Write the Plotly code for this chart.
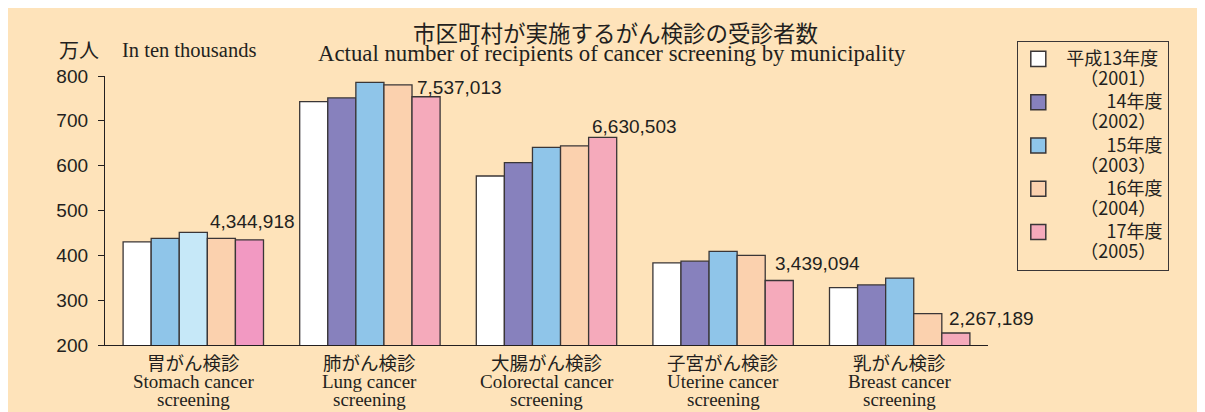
import plotly.graph_objects as go

# Data (in ten thousands of people)
categories_jp = ['胃がん検診', '肺がん検診', '大腸がん検診', '子宮がん検診', '乳がん検診']
categories_en = ['Stomach cancer<br>screening', 'Lung cancer<br>screening', 'Colorectal cancer<br>screening',
                 'Uterine cancer<br>screening', 'Breast cancer<br>screening']
year_line1 = ['平成13年度', '14年度', '15年度', '16年度', '17年度']
year_line2 = ['（2001）', '（2002）', '（2003）', '（2004）', '（2005）']
v2001 = [430, 743, 577, 383, 328]
v2002 = [438, 751, 607, 387, 334]
v2003 = [451, 786, 641, 409, 349]
v2004 = [438, 780, 644, 400, 270]
counts2005 = [4344918, 7537013, 6630503, 3439094, 2267189]
v2005 = [c / 10000 for c in counts2005]
series = [v2001, v2002, v2003, v2004, v2005]

# Styles
year_colors = ['#FFFFFF', '#8781BD', '#8FC5E9', '#FBD1AE', '#F5AABB']
stomach_colors = ['#FFFFFF', '#8FC5E9', '#C6E8F8', '#FBD1AE', '#F299C2']
bg = '#FEE3BA'
ink = '#231F20'
edge = '#3A3637'
jp_font = 'Noto Sans CJK JP'
serif = 'Liberation Serif'
sans = 'Liberation Sans'

# positions measured on the screenshot (page has an 8px body margin);
# plot area there is x 105..988, y 76..345
def px_x(px):
    return (px - 105) / 883

def px_y(py):
    return (345 - py) / 269

fig = go.Figure()
for i, vals in enumerate(series):
    colors = [stomach_colors[i] if j == 0 else year_colors[i] for j in range(len(vals))]
    fig.add_trace(go.Bar(
        x=list(range(len(categories_jp))), y=vals,
        name=year_line1[i], showlegend=False,
        marker=dict(color=colors, line=dict(color=edge, width=1.3)),
        hoverinfo='y'
    ))

# legend entries (year colours), right-ish aligned text like the original
for i in range(len(year_line1)):
    pad1 = '&nbsp;&nbsp;' if i == 0 else '　　&nbsp;&nbsp;&nbsp;'
    name = (f'<span style="font-size:18px">{pad1}{year_line1[i]}</span><br>'
            f'<span style="font-size:18px">　&nbsp;{year_line2[i]}</span>')
    fig.add_trace(go.Scatter(
        x=[None], y=[None], mode='markers', name=name,
        marker=dict(symbol='square', size=15, color=year_colors[i], line=dict(color=edge, width=1.5))
    ))

annotations = []
# value labels for 2005
label_dx = [0.082, 0.256, 0.244, 0.284, 0.267]
label_dy = [18.6, 9.7, 10.7, 16.7, 14.7]
for j, c in enumerate(counts2005):
    annotations.append(dict(
        x=j + label_dx[j], y=v2005[j], xref='x', yref='y',
        text=f'{c:,}', showarrow=False, xanchor='left', yanchor='middle',
        yshift=label_dy[j], font=dict(family=sans, size=19, color=ink)
    ))

# category labels
for j in range(len(categories_jp)):
    annotations.append(dict(
        x=j, y=px_y(362), xref='x', yref='paper', text=categories_jp[j],
        showarrow=False, xanchor='center', yanchor='middle',
        font=dict(family=jp_font, size=18.5, color=ink)
    ))
    for k, line in enumerate(categories_en[j].split('<br>')):
        annotations.append(dict(
            x=j, y=px_y(382 + 18 * k), xref='x', yref='paper', text=line,
            showarrow=False, xanchor='center', yanchor='middle',
            font=dict(family=serif, size=19, color=ink)
        ))

# titles and unit
annotations += [
    dict(x=px_x(615), y=px_y(32), xref='paper', yref='paper', text='市区町村が実施するがん検診の受診者数',
         showarrow=False, xanchor='center', yanchor='middle', font=dict(family=jp_font, size=22.5, color=ink)),
    dict(x=px_x(612), y=px_y(53), xref='paper', yref='paper',
         text='Actual number of recipients of cancer screening by municipality',
         showarrow=False, xanchor='center', yanchor='middle', font=dict(family=serif, size=22.8, color=ink)),
    dict(x=px_x(57), y=px_y(50), xref='paper', yref='paper', text='万人',
         showarrow=False, xanchor='left', yanchor='middle', font=dict(family=jp_font, size=20, color=ink)),
    dict(x=px_x(120), y=px_y(50), xref='paper', yref='paper', text='In ten thousands',
         showarrow=False, xanchor='left', yanchor='middle', font=dict(family=serif, size=20.5, color=ink)),
]

fig.update_layout(
    width=1205, height=412,
    margin=dict(l=97, r=225, t=68, b=75, autoexpand=False),
    paper_bgcolor=bg, plot_bgcolor=bg,
    barmode='group', bargap=0.205, bargroupgap=0,
    annotations=annotations,
    legend=dict(x=px_x(1017), y=px_y(41), xanchor='left', yanchor='top',
                bgcolor=bg, bordercolor=edge, borderwidth=1.3,
                font=dict(family=jp_font, size=15.5, color=ink),
                entrywidth=136, tracegroupgap=0, itemsizing='trace', valign='top', maxheight=300),
    xaxis=dict(range=[-0.5, 4.5], showticklabels=False, ticks='', showgrid=False, zeroline=False,
               showline=True, linecolor=ink, linewidth=1.3, fixedrange=True),
    yaxis=dict(range=[200, 800], tickvals=[200, 300, 400, 500, 600, 700, 800], ticks='outside',
               ticklen=6, tickwidth=1.3, tickcolor=ink, showgrid=False, zeroline=False,
               showline=True, linecolor=ink, linewidth=1.3, ticklabelstandoff=6,
               tickfont=dict(family=sans, size=19, color=ink)),
    showlegend=True,
)

fig.write_html('out.html')
